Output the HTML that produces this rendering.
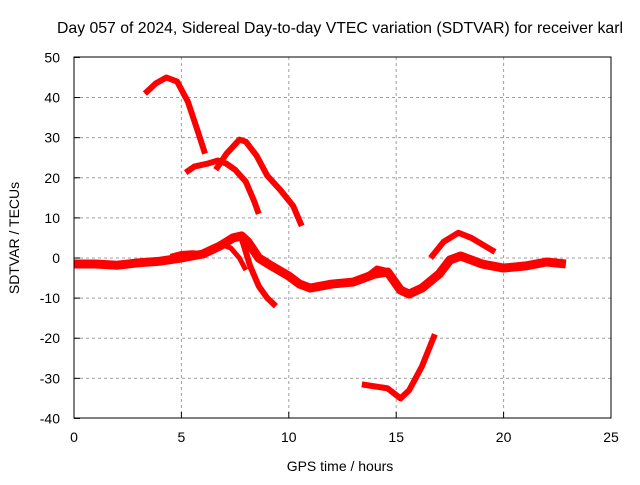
<!DOCTYPE html>
<html><head><meta charset="utf-8"><style>
body{margin:0;background:#fff}
text{font-family:"Liberation Sans",sans-serif;font-size:14px;fill:#000}
</style></head><body>
<svg width="640" height="480">
<g id="grid"></g>
<g id="axes"></g>
<g id="series"></g>
<rect x="74" y="57" width="537" height="361" fill="none" stroke="#000"/>
<text x="340" y="33" text-anchor="middle" style="font-size:15.8px">Day 057 of 2024, Sidereal Day-to-day VTEC variation (SDTVAR) for receiver karl</text>
<text x="340" y="471" text-anchor="middle">GPS time / hours</text>
<text transform="translate(19,238) rotate(-90)" text-anchor="middle">SDTVAR / TECUs</text>
</svg>
<script>
const xTicks=[0,5,10,15,20,25];
const yTicks=[-40,-30,-20,-10,0,10,20,30,40,50];
const sMain=[[0,-1.5],[1,-1.5],[2,-1.8],[3,-1.2],[4,-0.8],[5,0],[6,1],[6.8,3],[7.4,5],[7.8,5.5],[8.1,4],[8.6,0],[9.2,-2],[10,-4.5],[10.5,-6.5],[11,-7.5],[12,-6.5],[13,-6],[14,-4],[14.6,-3.5],[15.2,-8],[15.6,-9],[16.2,-7.5],[17,-4],[17.5,-0.5],[18,0.5],[19,-1.5],[20,-2.5],[21,-2],[22,-1],[22.9,-1.5]];
const sBump5=[[4.5,0.3],[5,1],[5.5,1.2],[6,1]];
const sTop=[[3.3,41],[3.8,43.5],[4.3,45],[4.8,44],[5.3,39],[5.8,31],[6.1,26]];
const sB1=[[5.2,21.3],[5.6,22.8],[6.2,23.5],[6.7,24.3],[7.1,23.5],[7.5,22],[8.0,19],[8.4,14],[8.6,11]];
const sB2=[[6.6,22],[7.1,26],[7.7,29.5],[8.0,29],[8.5,25.5],[9.0,20.5],[9.6,17],[10.2,13],[10.6,8]];
const sDown1=[[6.8,3.5],[7.3,2.5],[7.7,0],[8.0,-3]];
const sDown2=[[7.8,5],[8.2,-2],[8.6,-7],[9.0,-10],[9.4,-12]];
const sBump14=[[13.5,-5],[14.1,-2.5],[14.5,-3]];
const sArc18=[[16.6,0],[17.2,4],[17.9,6.3],[18.5,5],[19.6,1.5]];
const sLow=[[13.4,-31.5],[14,-32],[14.6,-32.5],[15.2,-35],[15.6,-33],[16.2,-27],[16.8,-19]];
const X=h=>74+h*537/25, Y=v=>258-v*361/90;
const NS="http://www.w3.org/2000/svg";
const grid=document.getElementById('grid'),axes=document.getElementById('axes'),ser=document.getElementById('series');
function mk(tag,at,par){const e=document.createElementNS(NS,tag);for(const k in at)e.setAttribute(k,at[k]);par.appendChild(e);return e;}
xTicks.forEach(t=>{
 if(t>0&&t<25){const l=mk('line',{x1:X(t),x2:X(t),y1:57,y2:418,stroke:'#a0a0a0','stroke-dasharray':'3,3'},grid);
 
 }
 const tx=mk('text',{x:X(t),y:442,'text-anchor':'middle'},axes);tx.textContent=t;
 
 
 mk('line',{x1:X(t),x2:X(t),y1:418,y2:412,stroke:'#000'},axes);
});
yTicks.forEach(t=>{
 if(t>-40&&t<50){const l=mk('line',{x1:74,x2:611,y1:Y(t),y2:Y(t),stroke:'#a0a0a0','stroke-dasharray':'3,3'},grid);
 
 }
 const tx=mk('text',{x:60,y:Y(t)+5,'text-anchor':'end'},axes);tx.textContent=t;
 
 
 mk('line',{x1:74,x2:80,y1:Y(t),y2:Y(t),stroke:'#000'},axes);
});
[[sMain,9],[sBump5,6],[sTop,6],[sB1,6],[sB2,6],[sDown1,5],[sDown2,6],[sBump14,5],[sArc18,6],[sLow,6]].forEach(([s,w])=>{
 const p=mk('polyline',{points:s.map(d=>X(d[0])+','+Y(d[1])).join(' '),fill:'none',stroke:'#ff0000','stroke-width':w,'stroke-linejoin':'round'},ser);
 
 
});
</script>
</body></html>
